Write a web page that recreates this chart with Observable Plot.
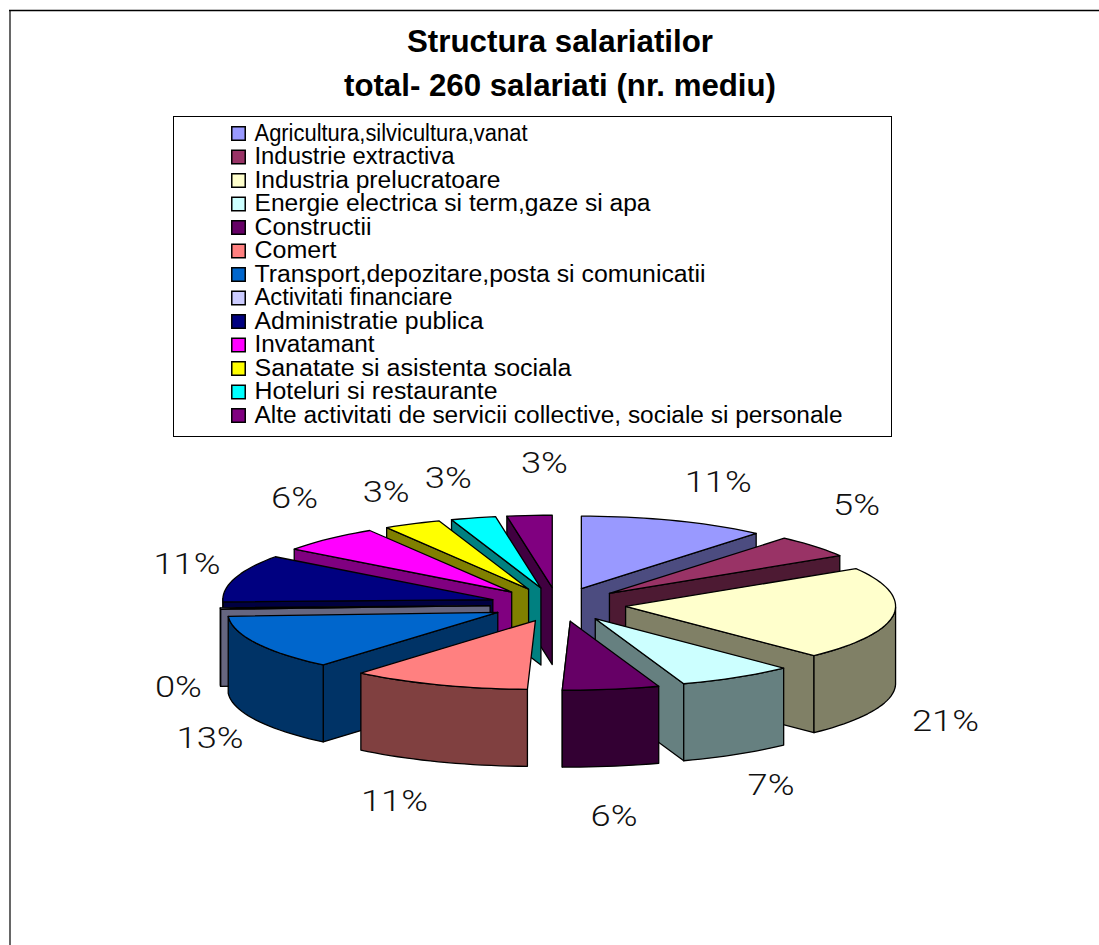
<!DOCTYPE html>
<html>
<head>
<meta charset="utf-8">
<style>html,body{margin:0;padding:0;background:#fff}svg{display:block}</style>
<script src="https://cdn.jsdelivr.net/npm/d3@7"></script>
<script src="https://cdn.jsdelivr.net/npm/@observablehq/plot@0.6"></script>
</head>
<body>
<div id="chart"></div>
<script>
const titleLines = ["Structura salariatilor", "total- 260 salariati (nr. mediu)"];
const categories = [
  "Agricultura,silvicultura,vanat", "Industrie extractiva", "Industria prelucratoare",
  "Energie electrica si term,gaze si apa", "Constructii", "Comert",
  "Transport,depozitare,posta si comunicatii", "Activitati financiare", "Administratie publica",
  "Invatamant", "Sanatate si asistenta sociala", "Hoteluri si restaurante",
  "Alte activitati de servicii collective, sociale si personale"
];
const employees = [29, 13, 55, 18, 15, 28, 34, 1, 28, 16, 9, 7, 7];
const topColors = ["#9999FF","#993366","#FFFFCC","#CCFFFF","#660066","#FF8080","#0066CC","#CCCCFF","#000080","#FF00FF","#FFFF00","#00FFFF","#800080"];
const sideColors = ["#4C4C80","#4D1A33","#808066","#668080","#330033","#804040","#003366","#666680","#000040","#800080","#808000","#008080","#400040"];

// 3D projection of the pie and text fitting (layout only)
const cx = 557.5, cy = 604, radius = 270, tiltRear = 0.268, tiltFront = 0.255, explode = 68, depth = 77;
const labelNudgeX = [44,42,52,34,3,-44,-46,-42,-48,-34,-26,-25,15];
const labelNudgeY = [-38,-41,30,31,50,40,19,2,-13,-40,-31,-39,-52];
const legendWidths = [273,200,246,396,117,82,451,198,229,120,317,243,588];
const titleWidths = [306,432];

const total = d3.sum(employees);
const rad = d => d * Math.PI / 180;
const warp = t => t + 1.7 * (1 - Math.cos(rad(t))) / 2;
let acc = 0;
const slices = employees.map((v, i) => {
  const a0 = acc / total * 360; acc += v; const a1 = acc / total * 360;
  return {i, a0, a1, mid: (a0 + a1) / 2};
});
function project(s, t, r, z) {
  const m = rad(s.mid), w = rad(warp(t)), c = Math.cos(w);
  return [cx + explode * Math.sin(m) + r * Math.sin(w),
          cy - 0.25 * explode * Math.cos(m) - (c > 0 ? tiltRear : tiltFront) * r * c + z];
}
function arc(s, from, to, z) {
  const n = Math.max(1, Math.ceil((to - from) / 2));
  return d3.range(n + 1).map(j => project(s, from + (to - from) * j / n, radius, z));
}
const faces = [];
function addFace(points, fill, name) {
  points.forEach(([x, y]) => faces.push({face: name, x, y, fill}));
}
[...slices].sort((a, b) => Math.cos(rad(b.mid)) - Math.cos(rad(a.mid))).forEach(s => {
  const apex = project(s, s.a0, 0, 0), apexLow = project(s, s.a0, 0, depth);
  const side = sideColors[s.i], top = topColors[s.i];
  if (Math.sin(rad(s.a0)) < 0) addFace([apex, project(s, s.a0, radius, 0), project(s, s.a0, radius, depth), apexLow], side, `w0${s.i}`);
  if (Math.sin(rad(s.a1)) > 0) addFace([apex, project(s, s.a1, radius, 0), project(s, s.a1, radius, depth), apexLow], side, `w1${s.i}`);
  const from = Math.max(s.a0, 90), to = Math.min(s.a1, 270);
  if (to > from) addFace([...arc(s, from, to, 0), ...arc(s, from, to, depth).reverse()], side, `r${s.i}`);
  addFace([apex, ...arc(s, s.a0, s.a1, 0)], top, `t${s.i}`);
});
const pctRows = slices.map(s => {
  const front = Math.cos(rad(s.mid)) < 0;
  const [x, y] = project(s, s.mid, radius, front ? depth : 0);
  return {x: x + labelNudgeX[s.i], y: y + labelNudgeY[s.i], label: d3.format(".0%")(employees[s.i] / total)};
});
const legendRows = categories.map((name, i) => ({name, color: topColors[i], y: 133 + i * 23.5}));
const titleRows = titleLines.map((line, i) => ({line, y: 41.5 + i * 44}));

const svg = Plot.plot({
  width: 1099, height: 945, margin: 0,
  x: {domain: [0, 1099], range: [0, 1099], axis: null},
  y: {domain: [0, 945], range: [0, 945], axis: null},
  color: {type: "identity"},
  style: {fontFamily: "Liberation Sans, Arial, sans-serif", background: "#fff"},
  marks: [
    Plot.ruleY([10], {x1: 9, x2: 1099, stroke: "#000", strokeWidth: 1.4}),
    Plot.ruleX([9.5], {y1: 10, y2: 945, stroke: "#000", strokeWidth: 1.2}),
    Plot.text(titleRows, {x: () => 559.5, y: "y", text: "line", fontSize: 31.5, fontWeight: "bold", fill: "#000", className: "ttl"}),
    Plot.rect([0], {x1: () => 173.5, x2: () => 891.5, y1: () => 116.5, y2: () => 436.5, fill: "#fff", stroke: "#000", strokeWidth: 1}),
    Plot.dot(legendRows, {x: () => 238, y: "y", symbol: "square", r: 7.6, fill: "color", stroke: "#000", strokeWidth: 1.5}),
    Plot.text(legendRows, {x: () => 254, y: "y", text: "name", textAnchor: "start", fontSize: 23, fill: "#000", className: "leg"}),
    Plot.line(faces, {x: "x", y: "y", z: "face", fill: "fill", stroke: "#000", strokeWidth: 1.3, curve: "linear-closed"}),
    Plot.text(pctRows, {x: "x", y: "y", text: "label", fontSize: 29, fill: "#111", fontFamily: "Roboto, Liberation Sans, sans-serif", fontWeight: 300, className: "pct"})
  ]
});
document.getElementById("chart").append(svg);
// fit the type to the stretched widths of the original
function fit(cls, widthOf) {
  d3.select(svg).selectAll(`.${cls} text`).each(function (_, i) {
    this.setAttribute("textLength", widthOf(this.textContent, i));
    this.setAttribute("lengthAdjust", "spacingAndGlyphs");
  });
}
fit("ttl", (_, i) => titleWidths[i]);
fit("leg", (_, i) => legendWidths[i]);
fit("pct", t => t.length === 3 ? 67 : 47);
</script>
</body>
</html>
